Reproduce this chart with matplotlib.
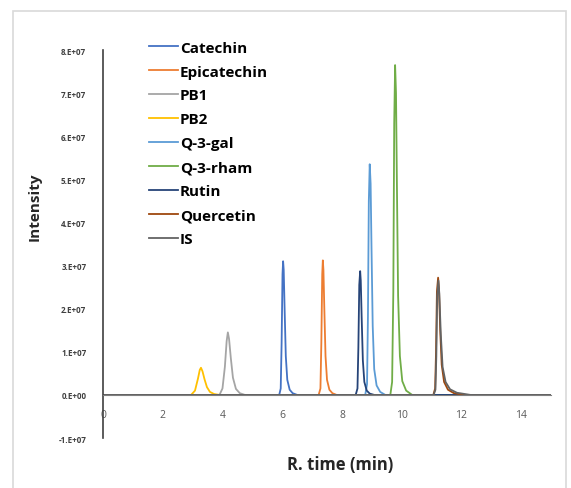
import matplotlib.pyplot as plt
from matplotlib.patches import Rectangle

plt.rcParams['font.family'] = ['Open Sans', 'DejaVu Sans']

# retention time (min) and intensity (1e7 counts) for each compound trace
names = ['Catechin', 'Epicatechin', 'PB1', 'PB2', 'Q-3-gal', 'Q-3-rham', 'Rutin', 'Quercetin', 'IS']
colors = ['#4472C4', '#ED7D31', '#A5A5A5', '#FFC000', '#5B9BD5', '#70AD47', '#264478', '#9E480E', '#636363']

catechin_t = [0.0, 5.90, 5.95, 5.98, 6.01, 6.03, 6.05, 6.08, 6.12, 6.17, 6.25, 6.35, 6.50, 15.0]
catechin_y = [0.0, 0.0, 0.15, 1.2, 2.8, 3.10, 2.9, 2.0, 0.9, 0.35, 0.12, 0.04, 0.0, 0.0]

epicat_t = [0.0, 7.22, 7.28, 7.31, 7.34, 7.36, 7.38, 7.41, 7.45, 7.50, 7.58, 7.68, 7.82, 15.0]
epicat_y = [0.0, 0.0, 0.15, 1.2, 2.8, 3.12, 2.9, 2.0, 0.9, 0.35, 0.12, 0.04, 0.0, 0.0]

pb1_t = [0.0, 3.90, 4.00, 4.08, 4.14, 4.18, 4.22, 4.28, 4.35, 4.45, 4.58, 4.75, 15.0]
pb1_y = [0.0, 0.0, 0.15, 0.65, 1.25, 1.45, 1.3, 0.85, 0.4, 0.14, 0.04, 0.0, 0.0]

pb2_t = [0.0, 2.95, 3.08, 3.18, 3.24, 3.28, 3.33, 3.40, 3.48, 3.58, 3.72, 3.90, 15.0]
pb2_y = [0.0, 0.0, 0.1, 0.38, 0.58, 0.63, 0.55, 0.36, 0.18, 0.07, 0.02, 0.0, 0.0]

qgal_t = [0.0, 8.78, 8.84, 8.87, 8.90, 8.93, 8.96, 8.99, 9.03, 9.08, 9.16, 9.28, 9.45, 15.0]
qgal_y = [0.0, 0.0, 0.25, 1.8, 4.5, 5.35, 4.9, 3.4, 1.6, 0.6, 0.22, 0.07, 0.0, 0.0]

qrham_t = [0.0, 9.62, 9.68, 9.72, 9.75, 9.78, 9.81, 9.84, 9.88, 9.94, 10.02, 10.15, 10.35, 15.0]
qrham_y = [0.0, 0.0, 0.3, 2.4, 6.3, 7.65, 7.0, 4.9, 2.3, 0.9, 0.32, 0.1, 0.0, 0.0]

rutin_t = [0.0, 8.46, 8.52, 8.55, 8.58, 8.61, 8.63, 8.66, 8.70, 8.75, 8.83, 8.93, 9.08, 15.0]
rutin_y = [0.0, 0.0, 0.15, 1.1, 2.55, 2.87, 2.65, 1.8, 0.8, 0.3, 0.1, 0.03, 0.0, 0.0]

querc_t = [0.0, 11.06, 11.12, 11.15, 11.18, 11.22, 11.25, 11.29, 11.34, 11.42, 11.55, 11.75, 12.10, 15.0]
querc_y = [0.0, 0.0, 0.15, 1.0, 2.4, 2.72, 2.45, 1.5, 0.7, 0.3, 0.12, 0.04, 0.0, 0.0]

is_t = [0.0, 11.07, 11.13, 11.16, 11.19, 11.23, 11.26, 11.31, 11.37, 11.47, 11.62, 11.85, 12.30, 15.0]
is_y = [0.0, 0.0, 0.12, 0.9, 2.3, 2.65, 2.35, 1.4, 0.65, 0.3, 0.13, 0.05, 0.0, 0.0]

series_t = [catechin_t, epicat_t, pb1_t, pb2_t, qgal_t, qrham_t, rutin_t, querc_t, is_t]
series_y = [catechin_y, epicat_y, pb1_y, pb2_y, qgal_y, qrham_y, rutin_y, querc_y, is_y]

xticks = [0, 2, 4, 6, 8, 10, 12, 14]
yticks = [-1, 0, 1, 2, 3, 4, 5, 6, 7, 8]
ytick_labels = ['-1.E+07', '0.E+00', '1.E+07', '2.E+07', '3.E+07', '4.E+07',
                '5.E+07', '6.E+07', '7.E+07', '8.E+07']

fig = plt.figure(figsize=(5.71, 4.89), dpi=100)
ax = fig.add_axes([0.1804, 0.1022, 0.7846, 0.7935])

for name, c, t, y in zip(names, colors, series_t, series_y):
    ax.plot(t, [v * 1e7 for v in y], color=c, lw=1.3, label=name)

ax.set_xlim(0, 15)
ax.set_ylim(-1e7, 8e7)

for s in ['top', 'right']:
    ax.spines[s].set_visible(False)
ax.spines['bottom'].set_position(('data', 0))
ax.spines['bottom'].set_color('#7f7f7f')
ax.spines['left'].set_color('#404040')
ax.spines['left'].set_linewidth(1.2)

ax.set_xticks(xticks)
ax.set_xticklabels([str(v) for v in xticks])
ax.set_yticks([v * 1e7 for v in yticks])
ax.set_yticklabels(ytick_labels)
ax.tick_params(axis='x', length=0, pad=10, labelsize=7.5, labelcolor='#595959')
ax.tick_params(axis='y', length=0, pad=12, labelsize=5.8, labelcolor='#404040')
for lbl in ax.get_yticklabels():
    lbl.set_fontweight('bold')

leg = ax.legend(loc='upper left', bbox_to_anchor=(0.09, 1.04), frameon=False,
                prop={'weight': 'bold', 'size': 11}, handlelength=1.85,
                handletextpad=0.15, labelspacing=0.65, borderaxespad=0)

fig.text(35 / 571, 1 - 207 / 489, 'Intensity', rotation=90, ha='center', va='center',
         fontsize=11, fontweight='bold', color='#262626')
fig.text(340 / 571, 1 - 465 / 489, 'R. time (min)', ha='center', va='center',
         fontsize=12, fontweight='bold', color='#262626')

# light chart-area border
fig.patches.append(Rectangle((13 / 571, -0.02), (566 - 13) / 571, 1 - 12 / 489 + 0.02,
                             transform=fig.transFigure, fill=False,
                             edgecolor='#d9d9d9', lw=1.2))

fig.savefig('out.png', dpi=100)
